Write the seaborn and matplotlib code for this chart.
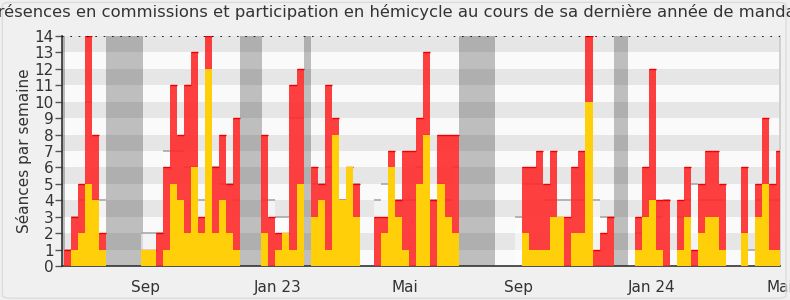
import numpy as np
import pandas as pd
import matplotlib
matplotlib.use("Agg")
import matplotlib.pyplot as plt
from matplotlib.patches import FancyBboxPatch
import seaborn as sns

# ---- data (one value per week) ----
total = [1, 3, 5, 14, 8, 2, 0, 0, 0, 0,
         0, 1, 1, 2, 6, 11, 8, 11, 13, 3,
         14, 6, 8, 5, 9, 0, 0, 0, 8, 3,
         2, 2, 11, 12, 0, 6, 5, 11, 9, 4,
         6, 5, 0, 0, 3, 3, 7, 4, 7, 7,
         9, 13, 4, 8, 8, 8, 0, 0, 0, 0,
         0, 0, 0, 0, 0, 6, 6, 7, 5, 7,
         3, 3, 6, 7, 14, 1, 2, 3, 0, 0,
         0, 3, 6, 12, 4, 4, 0, 4, 6, 1,
         5, 7, 7, 5, 0, 0, 6, 0, 5, 9,
         5, 7]
hemicycle = [0, 1, 2, 5, 4, 1, 0, 0, 0, 0,
             0, 1, 1, 0, 1, 5, 4, 2, 6, 2,
             12, 2, 4, 2, 1, 0, 0, 0, 2, 0,
             1, 2, 1, 5, 0, 3, 4, 1, 8, 4,
             6, 3, 0, 0, 0, 2, 6, 3, 1, 0,
             5, 8, 0, 5, 3, 2, 0, 0, 0, 0,
             0, 0, 0, 0, 0, 2, 1, 1, 1, 3,
             3, 0, 2, 2, 10, 0, 0, 0, 0, 0,
             0, 1, 3, 4, 1, 0, 0, 1, 3, 0,
             2, 3, 3, 1, 0, 0, 2, 0, 3, 5,
             1, 1]
median = [1, 3, 4, 10, 4, 4, 0, 0, 0, 0,
          0, 2, 2, 2, 7, 7, 7, 6, 6, 4,
          4, 6, 5, 5, 4, 0, 0, 0, 4, 4,
          3, 3, 9, 9, 0, 5, 5, 6, 6, 4,
          5, 5, 0, 0, 4, 5, 5, 4, 4, 4,
          6, 8, 4, 5, 4, 6, 0, 0, 0, 0,
          0, 0, 0, 0, 3, 5, 5, 5, 4, 4,
          4, 4, 4, 4, 4, 4, 3, 3, 0, 0,
          0, 2, 3, 4, 3, 4, 0, 3, 4, 5,
          4, 4, 4, 4, 0, 0, 2, 1, 4, 4,
          4, 4]
# vacation periods (start, end) in weeks
vacations = [(-0.6, 0.12), (5.96, 11.16), (25.0, 28.1), (34.1, 35.1),
             (56.0, 61.1), (78.0, 80.1)]
tick_weeks = [11.5, 30.35, 48.4, 64.5, 83.4, 101.6]
tick_labels = ["Sep", "Jan 23", "Mai", "Sep", "Jan 24", "Mai"]
title = ("Présences en commissions et participation en hémicycle "
         "au cours de sa dernière année de mandat")
ylabel = "Séances par semaine"

n = len(total)
df = pd.DataFrame({"week": np.arange(n) + 0.5, "total": total,
                   "hemicycle": hemicycle, "median": median})

sns.set_theme(style="white")
plt.rcParams["font.family"] = ["DejaVu Sans"]

fig = plt.figure(figsize=(7.9, 3.0), dpi=100, facecolor="#f0f0f0")
fig.patches.append(FancyBboxPatch((0.003, 0.006), 0.992, 0.986,
                                  boxstyle="round,pad=0,rounding_size=0.01",
                                  transform=fig.transFigure, fill=False,
                                  edgecolor="#dcdcdc", lw=1))
ax = fig.add_axes([62 / 790, 34 / 300, 718 / 790, 230 / 300])
ax.set_facecolor("#fafafa")

# background stripes
for k in range(14):
    ax.axhspan(k, k + 1, color="#e6e6e6" if k % 2 == 1 else "#fafafa",
               lw=0, zorder=0)
# vacation bands
for a, b in vacations:
    ax.axvspan(a, b, color="black", alpha=0.24, lw=0, zorder=1)

# median (light boxes with gray top line)
sns.barplot(data=df, x="week", y="median", native_scale=True, width=1,
            color="white", alpha=0.55, errorbar=None, linewidth=0,
            ax=ax, zorder=2)
ax.hlines(df["median"][df["median"] > 0], df["week"][df["median"] > 0] - 0.5,
          df["week"][df["median"] > 0] + 0.5, color="#a8a8a8", lw=1.2,
          zorder=2.5)

# total (red) and hemicycle (yellow)
sns.barplot(data=df, x="week", y="total", native_scale=True, width=1,
            color="#ff2a2a", alpha=0.9, saturation=1, errorbar=None,
            linewidth=0, ax=ax, zorder=3)
sns.barplot(data=df, x="week", y="hemicycle", native_scale=True, width=1,
            color="#ffd00a", saturation=1, errorbar=None, linewidth=0,
            ax=ax, zorder=4)
ax.hlines(df["total"][df["total"] > 0], df["week"][df["total"] > 0] - 0.5,
          df["week"][df["total"] > 0] + 0.5, color="#ee0000", lw=1.0,
          zorder=3.5)

ax.axhline(14, color="black", ls=(0, (1, 4)), lw=1.2, zorder=5)

ax.set_xlim(-0.28, 101.56)
ax.set_ylim(0, 14)
ax.set_yticks(range(15))
ax.set_xticks(tick_weeks)
ax.set_xticklabels(tick_labels)
ax.set_xlabel("")
ax.set_ylabel(ylabel, fontsize=11, color="#333333", labelpad=2)
ax.tick_params(axis="y", left=True, length=5, width=1, color="#555555",
               labelsize=11, labelcolor="#333333", pad=1)
ax.tick_params(axis="x", bottom=False, labelsize=11, labelcolor="#333333",
               pad=4)
for s in ["top"]:
    ax.spines[s].set_visible(False)
ax.spines["left"].set_color("#333333")
ax.spines["bottom"].set_color("#333333")
ax.spines["right"].set_color("#cccccc")
ax.spines["left"].set_linewidth(1.2)
ax.spines["bottom"].set_linewidth(1.2)

fig.text(0.5, 1 - 12 / 300, title, ha="center", va="center", fontsize=11.8,
         color="#333333")

fig.savefig("out.png", dpi=100, facecolor=fig.get_facecolor())
